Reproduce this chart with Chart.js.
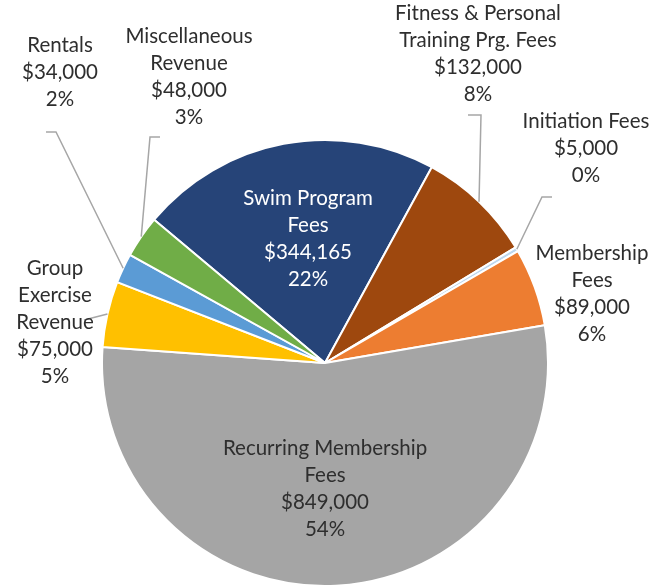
<!DOCTYPE html>
<html><head><meta charset="utf-8">
<script src="https://cdn.jsdelivr.net/npm/chart.js@4.4.1/dist/chart.umd.min.js"></script>
<style>html,body{margin:0;padding:0;background:#fff;overflow:hidden}</style>
</head><body>
<canvas id="c" width="663" height="587" style="display:block;width:663px;height:587px"></canvas>
<script>
// ---- data ----
const categories = ["Swim Program Fees","Fitness & Personal Training Prg. Fees","Initiation Fees","Membership Fees","Recurring Membership Fees","Group Exercise Revenue","Rentals","Miscellaneous Revenue"];
const revenue = [344165, 132000, 5000, 89000, 849000, 75000, 34000, 48000];
const nameLines = [["Swim Program","Fees"],["Fitness & Personal","Training Prg. Fees"],["Initiation Fees"],["Membership","Fees"],["Recurring Membership","Fees"],["Group","Exercise","Revenue"],["Rentals"],["Miscellaneous","Revenue"]];
const sliceColors = ["#264478","#9E480E","#BDD7EE","#ED7D31","#A5A5A5","#FFC000","#5B9BD5","#70AD47"];

// ---- label layout (style only) ----
const FONT = '20.5px Lato';
const LINE_H = 27;
const labelLayout = [
  {x:308, y:198, color:'#FFFFFF', leader:null},
  {x:478, y:13,  color:'#2E2E2E', leader:[[468,115],[481,115]]},
  {x:586, y:121, color:'#2E2E2E', leader:[[552,197],[542,197]]},
  {x:592, y:253, color:'#2E2E2E', leader:null},
  {x:325, y:448, color:'#2E2E2E', leader:null},
  {x:55,  y:268, color:'#2E2E2E', leader:[[84,320]]},
  {x:60,  y:45,  color:'#2E2E2E', leader:[[46,132],[56,132]]},
  {x:189, y:36,  color:'#2E2E2E', leader:[[160,137],[150,137]]}
];

const total = revenue.reduce((a,b)=>a+b,0);
function fmtMoney(v){ return '$' + v.toLocaleString('en-US'); }

const labelPlugin = {
  id:'excelLabels',
  afterDatasetsDraw(chart){
    const ctx = chart.ctx;
    const meta = chart.getDatasetMeta(0);
    ctx.save();
    meta.data.forEach((arc,i)=>{
      const L = labelLayout[i];
      if(!L.leader) return;
      const p = arc.getProps(['x','y','startAngle','endAngle','outerRadius'], true);
      const mid = (p.startAngle + p.endAngle)/2;
      const ex = p.x + Math.cos(mid)*p.outerRadius;
      const ey = p.y + Math.sin(mid)*p.outerRadius;
      ctx.beginPath();
      ctx.strokeStyle = '#A6A6A6';
      ctx.lineWidth = 1.5;
      ctx.moveTo(L.leader[0][0], L.leader[0][1]);
      for(let k=1;k<L.leader.length;k++) ctx.lineTo(L.leader[k][0], L.leader[k][1]);
      ctx.lineTo(ex, ey);
      ctx.stroke();
    });
    ctx.font = FONT;
    ctx.textAlign = 'center';
    ctx.textBaseline = 'middle';
    revenue.forEach((v,i)=>{
      const L = labelLayout[i];
      const lines = nameLines[i].concat([fmtMoney(v), Math.round(v/total*100) + '%']);
      ctx.fillStyle = L.color;
      lines.forEach((t,k)=> ctx.fillText(t, L.x, L.y + k*LINE_H));
    });
    ctx.restore();
  }
};

new Chart(document.getElementById('c'), {
  type:'pie',
  data:{
    labels: categories,
    datasets:[{
      data: revenue,
      backgroundColor: sliceColors,
      borderColor:'#FFFFFF',
      borderWidth:2,
      hoverOffset:0
    }]
  },
  options:{
    responsive:false,
    animation:false,
    devicePixelRatio:1,
    rotation:-50,
    layout:{padding:{left:101, right:114, top:139, bottom:0}},
    plugins:{legend:{display:false}, tooltip:{enabled:false}}
  },
  plugins:[labelPlugin]
});
</script>
</body></html>
